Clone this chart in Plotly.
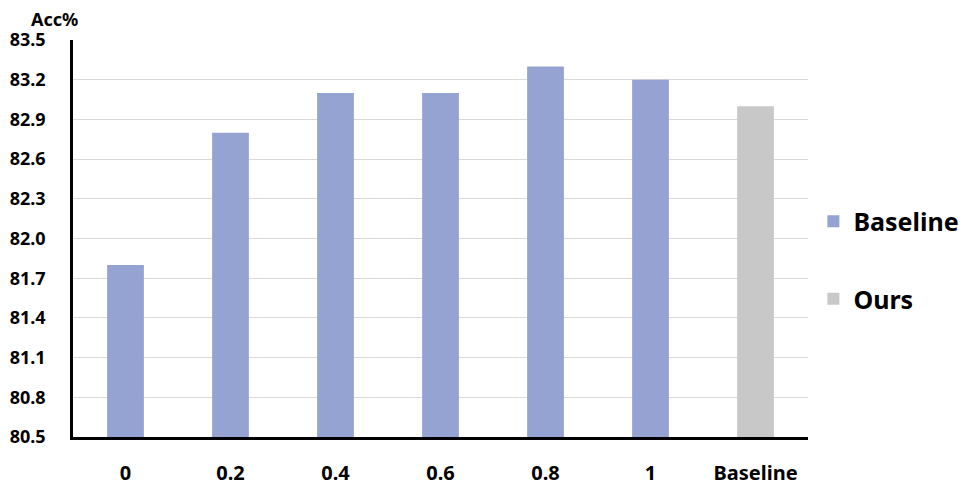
import plotly.graph_objs as go

# categories and accuracy values
categories = ["0", "0.2", "0.4", "0.6", "0.8", "1", "Baseline"]
sweep_labels = ["0", "0.2", "0.4", "0.6", "0.8", "1"]
sweep_acc = [81.8, 82.8, 83.1, 83.1, 83.3, 83.2]
ours_labels = ["Baseline"]
ours_acc = [83.0]
y_ticks = [80.5, 80.8, 81.1, 81.4, 81.7, 82.0, 82.3, 82.6, 82.9, 83.2, 83.5]

FONT = "Noto Sans"

fig = go.Figure()
fig.add_trace(go.Bar(
    name="<b>Baseline</b>",
    x=sweep_labels,
    y=sweep_acc,
    marker=dict(color="#95A3D3", line=dict(width=0)),
    legendgroup="a",
))
fig.add_trace(go.Bar(
    name="<b>Ours</b>",
    x=ours_labels,
    y=ours_acc,
    marker=dict(color="#C8C8C8", line=dict(width=0)),
    legendgroup="b",
))

# the page body adds an 8px margin, so the figure is sized to fit the window
fig.update_layout(
    width=968,
    height=480,
    plot_bgcolor="white",
    paper_bgcolor="white",
    bargap=0.65,
    margin=dict(l=65, r=168, t=32, b=51),
    font=dict(family=FONT, color="black"),
    legend=dict(
        xref="container",
        yref="container",
        x=0.832,
        y=0.603,
        xanchor="left",
        yanchor="top",
        font=dict(family=FONT, size=25, color="black"),
        traceorder="grouped",
        tracegroupgap=42,
    ),
    annotations=[dict(
        text="<b>Acc%</b>",
        xref="paper", yref="paper",
        x=0, y=1.0,
        xanchor="center", yanchor="bottom",
        xshift=-19, yshift=7,
        showarrow=False,
        font=dict(family=FONT, size=18, color="black"),
    )],
)

fig.update_xaxes(
    automargin=False,
    categoryorder="array",
    categoryarray=categories,
    tickvals=categories,
    ticktext=["<b>%s</b>" % c for c in categories],
    tickfont=dict(family=FONT, size=20, color="black"),
    showline=True,
    linecolor="black",
    linewidth=2.5,
    ticks="outside",
    ticklen=16,
    tickcolor="white",
    showgrid=False,
)

fig.update_yaxes(
    automargin=False,
    range=[80.5, 83.5],
    tickvals=y_ticks,
    ticktext=["<b>%.1f</b>" % v for v in y_ticks],
    tickfont=dict(family=FONT, size=18, color="black"),
    showline=True,
    linecolor="black",
    linewidth=2.5,
    ticks="outside",
    ticklen=21,
    tickcolor="white",
    showgrid=True,
    gridcolor="#D9D9D9",
    gridwidth=1,
    zeroline=False,
)

fig.write_html("out.html")
